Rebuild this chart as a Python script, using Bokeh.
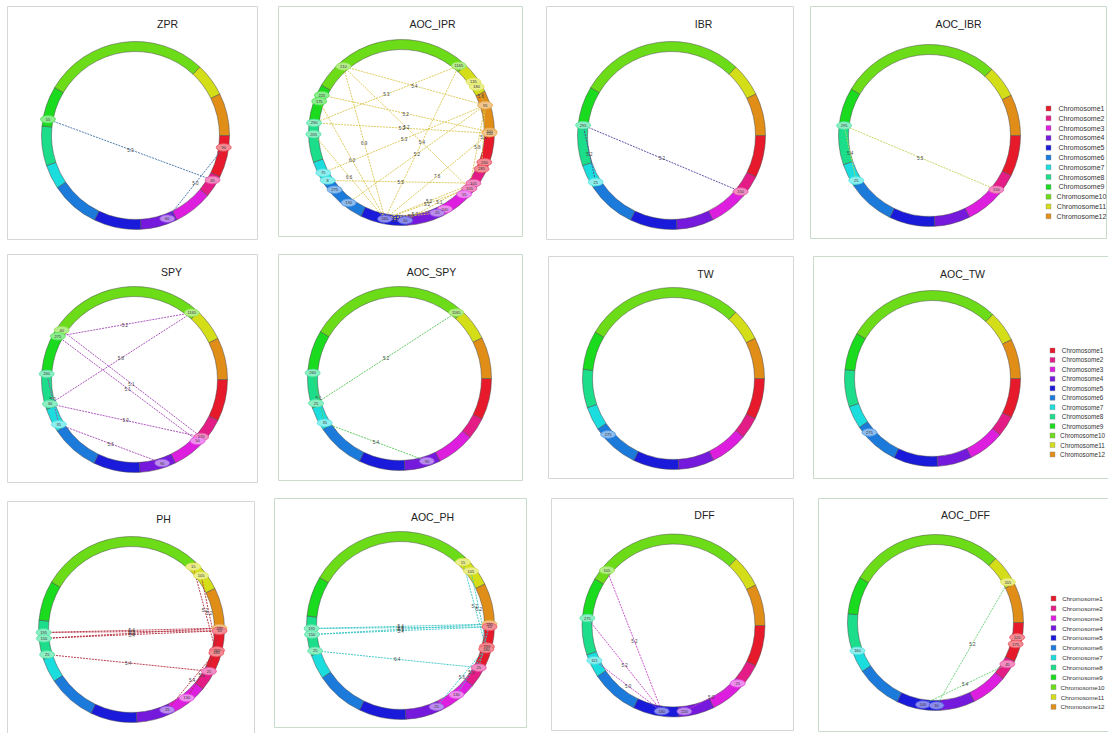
import math
from bokeh.plotting import figure
from bokeh.models import Range1d
from bokeh.embed import file_html
from bokeh.resources import INLINE
from bokeh.core.properties import value

# ---------------- data ----------------
chrom_names = ["Chromosome%d" % i for i in range(1, 13)]
chrom_lengths = [305, 160, 280, 265, 340, 355, 175, 285, 290, 1195, 240, 305]

panel_names = ["ZPR", "AOC_IPR", "IBR", "AOC_IBR",
               "SPY", "AOC_SPY", "TW", "AOC_TW",
               "PH", "AOC_PH", "DFF", "AOC_DFF"]

# nodes: (chromosome number, position); links: (node a, node b, value)
zpr_nodes = [(9, 55), (1, 90), (2, 45), (4, 60)]
zpr_links = [(0, 2, "5.3"), (1, 3, "5.0")]

aoc_ipr_nodes = [(10, 210), (10, 1165), (11, 135), (11, 180), (12, 95), (12, 300),
                 (12, 310), (1, 230), (1, 285), (2, 105), (2, 155), (3, 55),
                 (3, 240), (4, 25), (5, 10), (5, 165), (6, 130), (6, 275),
                 (7, 8), (7, 75), (8, 205), (8, 290), (9, 225), (9, 175)]
aoc_ipr_links = [(0, 4, "5.4"), (1, 21, "5.3"), (3, 4, "5.6"), (21, 6, "5.2"),
                 (0, 10, "5.2"), (4, 8, "5.1"), (0, 15, "6.9"), (19, 4, "5.3"),
                 (4, 10, "5.8"), (23, 15, "6.0"), (20, 15, "6.6"), (18, 9, "5.5"),
                 (15, 6, "7.6"), (1, 15, "5.4"), (16, 4, "5.2"), (15, 9, "5.2"),
                 (15, 10, "5.2"), (14, 9, "5.1"), (15, 14, "5.3"), (15, 12, "5.7"),
                 (15, 13, "5.1"), (22, 5, "5.2")]

ibr_nodes = [(8, 295), (7, 25), (2, 150)]
ibr_links = [(0, 2, "5.2"), (0, 1, "5.2")]

aoc_ibr_nodes = [(8, 295), (7, 25), (2, 150)]
aoc_ibr_links = [(0, 2, "5.5"), (0, 1, "5.4")]

spy_nodes = [(10, 1165), (10, 40), (9, 275), (8, 260), (8, 30), (7, 35),
             (4, 90), (2, 170), (3, 50)]
spy_links = [(2, 0, "5.2"), (4, 0, "5.8"), (1, 7, "5.1"), (2, 8, "5.1"),
             (3, 5, "5.3"), (4, 7, "5.0"), (5, 6, "5.6")]

aoc_spy_nodes = [(10, 1165), (8, 260), (8, 25), (7, 35), (4, 90)]
aoc_spy_links = [(2, 0, "5.2"), (1, 3, "5.1"), (3, 4, "5.4")]

tw_nodes = [(6, 275)]
tw_links = []

aoc_tw_nodes = [(6, 275)]
aoc_tw_links = []

ph_nodes = [(11, 15), (11, 105), (12, 295), (1, 10), (1, 160), (1, 180),
            (2, 25), (3, 130), (4, 25), (8, 195), (8, 150), (8, 25)]
ph_links = [(9, 2, "5.4"), (9, 3, "5.3"), (10, 2, "5.3"), (10, 3, "5.4"),
            (11, 6, "5.4"), (0, 5, "5.2"), (1, 4, "5.2"), (4, 8, "5.4"),
            (5, 7, "5.6"), (2, 6, "5.0")]

aoc_ph_nodes = [(11, 15), (11, 105), (12, 295), (1, 10), (1, 160), (1, 180),
                (2, 25), (3, 130), (4, 25), (8, 195), (8, 150), (8, 25)]
aoc_ph_links = [(9, 2, "5.4"), (9, 3, "5.4"), (10, 2, "5.3"), (10, 3, "5.4"),
                (11, 6, "6.4"), (0, 5, "5.2"), (1, 4, "5.2"), (4, 8, "5.6"),
                (5, 7, "5.1"), (2, 6, "5.0")]

dff_nodes = [(10, 105), (8, 275), (7, 115), (5, 130), (4, 220), (3, 25)]
dff_links = [(0, 3, "5.2"), (1, 3, "5.2"), (2, 3, "5.0"), (4, 5, "5.2")]

aoc_dff_nodes = [(11, 205), (1, 120), (1, 175), (2, 45), (7, 160), (5, 140), (5, 30)]
aoc_dff_links = [(0, 6, "5.2"), (3, 5, "5.4")]

panel_nodes = [zpr_nodes, aoc_ipr_nodes, ibr_nodes, aoc_ibr_nodes,
               spy_nodes, aoc_spy_nodes, tw_nodes, aoc_tw_nodes,
               ph_nodes, aoc_ph_nodes, dff_nodes, aoc_dff_nodes]
panel_links = [zpr_links, aoc_ipr_links, ibr_links, aoc_ibr_links,
               spy_links, aoc_spy_links, tw_links, aoc_tw_links,
               ph_links, aoc_ph_links, dff_links, aoc_dff_links]

# ---------------- styles / layout ----------------
chrom_colors = ["#E61A2B", "#E41C86", "#DE1EDE", "#7519DD", "#1A1ADB", "#1C7ADB",
                "#1CDDDD", "#1BDD8A", "#1ADB1E", "#6CDC18", "#D3DD18", "#E08E18"]
link_colors = ["#3E6FA8", "#D9C54E", "#4E439E", "#BCD355",
               "#A444B5", "#55C455", None, None,
               "#B22A3C", "#36C3C3", "#C445C4", "#66CF74"]
# box (x0, y0, x1, y1), title (x, y), centre (x, y), outer radius
panel_geom = [
    ((7, 6, 257, 239), (167, 23), (135, 135), 94),
    ((278, 6, 522, 236), (432, 23), (401, 132), 93),
    ((546, 6, 793, 239), (703, 23), (671, 135), 94),
    ((810, 6, 1106, 238), (958, 23), (929, 135), 91),
    ((7, 254, 257, 482), (171, 271), (134, 379), 93),
    ((278, 254, 522, 480), (431, 271), (399, 378), 92),
    ((548, 256, 793, 478), (705, 273), (673, 378), 91),
    ((813, 256, 1120, 478), (962, 273), (932, 378), 88),
    ((7, 501, 254, 745), (163, 518), (131, 629), 93),
    ((274, 498, 526, 727), (432, 516), (400, 625), 94),
    ((551, 498, 793, 730), (704, 514), (673, 625), 91.5),
    ((818, 498, 1120, 731), (965, 514), (935, 622), 88),
]
# square x, text centre x, first row y, row step, font size
legend_geom = [(1048, 1081, 108, 9.8, "7px"),
               (1052, 1082, 350, 9.45, "6.3px"),
               (1053, 1082, 598, 9.85, "6.2px")]

FONT = value("Liberation Sans")
W, H = 1108, 733


def tint(h, f):
    r, g, b = int(h[1:3], 16), int(h[3:5], 16), int(h[5:7], 16)
    r = int(r + (255 - r) * f)
    g = int(g + (255 - g) * f)
    b = int(b + (255 - b) * f)
    return "#%02x%02x%02x" % (r, g, b)


total = float(sum(chrom_lengths))
starts = [sum(chrom_lengths[:i]) for i in range(12)]


def angle_of(chrom, pos):
    return (starts[chrom - 1] + pos) / total * 2 * math.pi


p = figure(width=W, height=H, x_range=Range1d(0, W), y_range=Range1d(-H, 0),
           output_backend="svg", toolbar_location=None, min_border=0)
p.axis.visible = False
p.grid.visible = False
p.outline_line_color = None
p.background_fill_color = "white"
p.border_fill_color = "white"

for k, name in enumerate(panel_names):
    (bx0, by0, bx1, by1), (tx, ty), (cx, cy), R = panel_geom[k]
    box_col = "#c9dcc9" if name.startswith("AOC") else "#d6d6d6"
    p.quad(left=[bx0], right=[bx1], top=[-by0], bottom=[-by1],
           fill_color=None, line_color=box_col, line_width=1)
    p.text(x=[tx], y=[-ty], text=[name], text_align="center", text_baseline="middle",
           text_font_size="10.5px", text_color="#222222", text_font=FONT)
    # ring
    sa, ea = [], []
    for i in range(12):
        t0 = starts[i] / total * 2 * math.pi
        t1 = (starts[i] + chrom_lengths[i]) / total * 2 * math.pi
        sa.append(-t1)
        ea.append(-t0)
    p.annular_wedge(x=[cx] * 12, y=[-cy] * 12, inner_radius=R - 10, outer_radius=R,
                    start_angle=sa, end_angle=ea, fill_color=chrom_colors,
                    line_color="#4a4a4a", line_width=0.5)
    # nodes positions
    nodes = panel_nodes[k]
    rn = R - 5
    nx, ny = [], []
    for (c, pos) in nodes:
        t = angle_of(c, pos)
        nx.append(cx + rn * math.cos(t))
        ny.append(-(cy + rn * math.sin(t)))
    links = panel_links[k]
    if links:
        x0 = [nx[a] for a, b, v in links]
        y0 = [ny[a] for a, b, v in links]
        x1 = [nx[b] for a, b, v in links]
        y1 = [ny[b] for a, b, v in links]
        p.segment(x0=x0, y0=y0, x1=x1, y1=y1, line_color=link_colors[k],
                  line_width=0.9, line_dash="2 1")
        p.text(x=[(a + b) / 2 for a, b in zip(x0, x1)],
               y=[(a + b) / 2 for a, b in zip(y0, y1)],
               text=[v for a, b, v in links], text_align="center", text_baseline="middle",
               text_font_size="4.5px", text_color="#444444", text_font=FONT)
    if nodes:
        p.ellipse(x=nx, y=ny, width=15, height=7.5,
                  fill_color=[tint(chrom_colors[c - 1], 0.5) for c, _ in nodes],
                  line_color=[tint(chrom_colors[c - 1], 0.25) for c, _ in nodes],
                  line_width=0.8)
        p.text(x=nx, y=ny, text=[str(pos) for _, pos in nodes], text_align="center",
               text_baseline="middle", text_font_size="4px", text_color="#333333",
               text_font=FONT)

# legends
for (sx, tx, y0, dy, fs) in legend_geom:
    ys = [-(y0 + i * dy) for i in range(12)]
    p.rect(x=[sx] * 12, y=ys, width=5, height=5, fill_color=chrom_colors,
           line_color="#888888", line_width=0.4)
    p.text(x=[tx] * 12, y=ys, text=chrom_names, text_align="center", text_baseline="middle",
           text_font_size=fs, text_color="#333333", text_font=FONT)

open("out.html", "w").write(file_html(p, INLINE))
